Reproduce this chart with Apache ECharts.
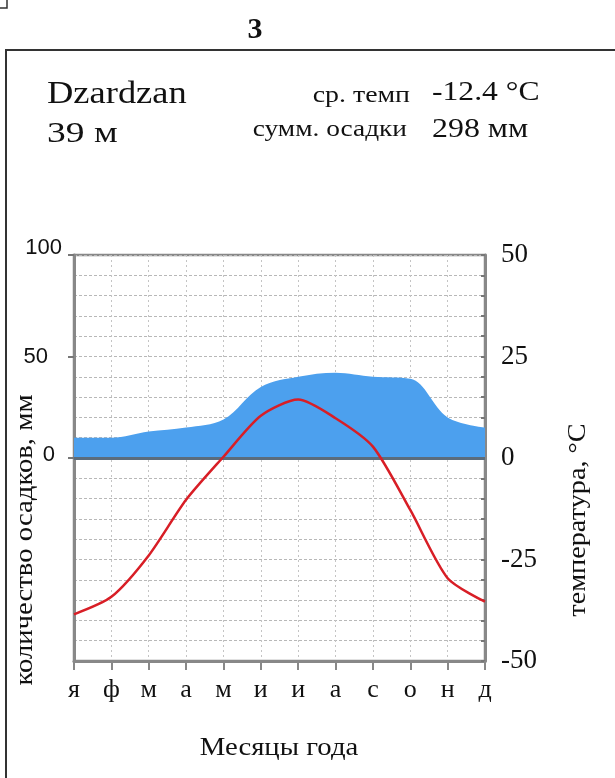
<!doctype html>
<html>
<head>
<meta charset="UTF-8">
<title>Dzardzan</title>
<script src="https://cdn.jsdelivr.net/npm/echarts@6/dist/echarts.min.js"></script>
<style>
html,body{margin:0;padding:0;background:#fff;}
#main{width:615px;height:778px;}
</style>
</head>
<body>
<div id="main"></div>
<script type="text/javascript">
// месяцы
var months = ['я','ф','м','а','м','и','и','а','с','о','н','д'];
// осадки, мм
var precip = [10, 10, 13, 15, 19, 35, 40, 42, 40, 39, 20, 15];
// температура, °C
var temps = [-38.5, -34.2, -24, -10.3, 0.3, 10.4, 14.4, 9.8, 2.8, -12.8, -29.6, -35.4];
// подписи осей
var leftTicks = [0, 50, 100];
var rightTicks = [-50, -25, 0, 25, 50];

var serif = '"Liberation Serif", "DejaVu Serif", serif';
var sans = '"Liberation Sans", Arial, sans-serif';

var chart = echarts.init(document.getElementById('main'));

// текст с растяжкой по горизонтали, как на картинке
function txt(s, x, y, font, align, sx, rot) {
	return {
		type: 'text', x: x, y: y, scaleX: sx || 1, rotation: rot || 0, silent: true,
		style: { text: s, font: font, fill: '#111', textAlign: align, textVerticalAlign: 'middle' }
	};
}

var option = {
	animation: false,
	backgroundColor: '#fff',
	grid: {
		left: 74, right: 130, top: 255, bottom: 117,
		show: true,
		borderColor: '#888',
		borderWidth: 2.5
	},
	xAxis: {
		type: 'category',
		boundaryGap: false,
		data: months,
		axisLine: { onZero: false, lineStyle: { color: '#888', width: 3 } },
		axisTick: { show: true, length: 9, lineStyle: { color: '#888', width: 2 } },
		axisLabel: { color: '#111', fontFamily: serif, fontSize: 26, margin: 16 },
		splitLine: { show: true, lineStyle: { color: '#c4c4c4', type: [2, 3], width: 1 } }
	},
	yAxis: [{
		type: 'value',
		min: -100, max: 100, interval: 50,
		position: 'left',
		axisLine: { show: true, lineStyle: { color: '#888', width: 3 } },
		axisTick: { show: true, length: 6, customValues: leftTicks, lineStyle: { color: '#777', width: 2 } },
		axisLabel: {
			customValues: leftTicks,
			margin: 12,
			color: '#111',
			fontFamily: sans,
			fontSize: 22,
			formatter: function (v) {
				if (v === 100) return '{a|100}';
				if (v === 50) return '{b|50}';
				if (v === 0) return '{c|0}';
				return '';
			},
			rich: {
				a: { fontFamily: sans, fontSize: 22, color: '#111', padding: [0, 0, 14, 0] },
				b: { fontFamily: sans, fontSize: 22, color: '#111', padding: [0, 14, 0, 0] },
				c: { fontFamily: sans, fontSize: 22, color: '#111', padding: [0, 7, 6, 0] }
			}
		},
		splitLine: { show: false }
	}, {
		type: 'value',
		min: -50, max: 50, interval: 5,
		position: 'right',
		axisLine: { show: true, lineStyle: { color: '#888', width: 3 } },
		axisTick: { show: true, inside: true, length: 4, lineStyle: { color: '#777', width: 2 } },
		axisLabel: {
			margin: 16,
			color: '#111',
			fontFamily: serif,
			fontSize: 27,
			formatter: function (v) {
				return rightTicks.indexOf(v) >= 0 ? String(v) : '';
			}
		},
		splitLine: { show: true, lineStyle: { color: '#b8b8b8', type: [3, 2], width: 1 } }
	}],
	series: [{
		name: 'осадки',
		type: 'line',
		yAxisIndex: 0,
		data: precip,
		smooth: 0.35,
		symbol: 'none',
		z: 2,
		lineStyle: { width: 0 },
		areaStyle: { color: '#4ca0ee', opacity: 1 },
		markLine: {
			silent: true,
			symbol: 'none',
			label: { show: false },
			lineStyle: { color: '#5b6c7c', width: 3, type: 'solid' },
			data: [{ yAxis: 0 }]
		}
	}, {
		name: 'температура',
		type: 'line',
		yAxisIndex: 1,
		data: temps,
		smooth: 0.25,
		symbol: 'none',
		z: 5,
		lineStyle: { color: '#d81e26', width: 2.5 }
	}],
	graphic: [
		{ type: 'rect', shape: { x: 6, y: 50, width: 700, height: 800 }, style: { fill: null, stroke: '#333', lineWidth: 2 }, silent: true },
		{ type: 'rect', shape: { x: -2, y: -2, width: 9, height: 10 }, style: { fill: null, stroke: '#333', lineWidth: 1.5 }, silent: true },
		txt('3', 255, 30, 'bold 30px ' + serif, 'center', 1),
		txt('Dzardzan', 47, 95, '32px ' + serif, 'left', 1.14),
		txt('39 м', 47, 134, '30px ' + serif, 'left', 1.25),
		txt('ср. темп', 410, 96, '24px ' + serif, 'right', 1.16),
		txt('-12.4 °C', 432, 93, '28px ' + serif, 'left', 1.13),
		txt('сумм. осадки', 407, 130, '24px ' + serif, 'right', 1.14),
		txt('298 мм', 432, 130, '28px ' + serif, 'left', 1.14),
		txt('количество осадков, мм', 25, 540, '25px ' + serif, 'center', 1.15, Math.PI / 2),
		txt('температура, °C', 578, 520, '25px ' + serif, 'center', 1.13, Math.PI / 2),
		txt('Месяцы года', 279, 748, '25px ' + serif, 'center', 1.15)
	]
};
chart.setOption(option);
</script>
</body>
</html>
